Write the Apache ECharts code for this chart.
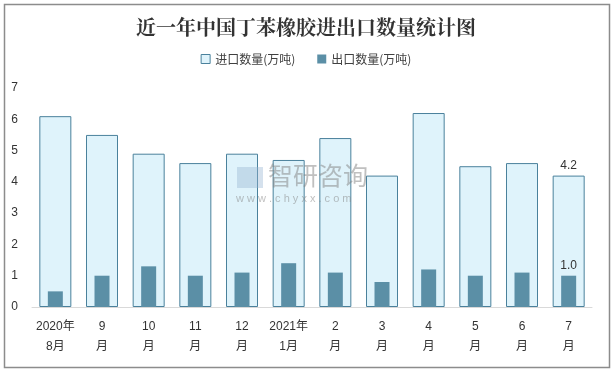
<!DOCTYPE html>
<html><head><meta charset="utf-8">
<script src="https://cdn.jsdelivr.net/npm/echarts@6/dist/echarts.min.js"></script>
<style>html,body{margin:0;padding:0;background:#fff}#c{width:612px;height:369px}</style>
</head><body><div id="c"></div>
<script>
const categories = ['2020年\n8月','9\n月','10\n月','11\n月','12\n月','2021年\n1月','2\n月','3\n月','4\n月','5\n月','6\n月','7\n月'];
const importValues = [6.1,5.5,4.9,4.6,4.9,4.7,5.4,4.2,6.2,4.5,4.6,4.2];
const exportValues = [0.5,1.0,1.3,1.0,1.1,1.4,1.1,0.8,1.2,1.0,1.1,1.0];
const yTicks = [0,1,2,3,4,5,6,7];

const lastLabel = (n) => ({
  show: true, position: 'top', distance: 4, color: '#333', fontSize: 12,
  fontFamily: 'Liberation Sans, Arial, sans-serif',
  formatter: p => p.dataIndex === n - 1 ? p.value.toFixed(1) : ''
});

const chart = echarts.init(document.getElementById('c'));
chart.setOption({
  backgroundColor: '#fff',
  animation: false,
  title: {
    text: '近一年中国丁苯橡胶进出口数量统计图',
    left: 'center', top: 12,
    textStyle: { fontSize: 20, fontWeight: 'bold', color: '#333', fontFamily: 'Noto Serif CJK SC, Noto Sans CJK SC, serif' }
  },
  legend: {
    top: 48, left: 'center', itemWidth: 9, itemHeight: 9, itemGap: 22,
    textStyle: { fontSize: 12, color: '#404040', fontFamily: 'Noto Sans CJK SC, sans-serif' },
    data: [
      { name: '进口数量(万吨)', icon: 'rect', itemStyle: { color: '#dff3fb', borderColor: '#4a819c', borderWidth: 1 } },
      { name: '出口数量(万吨)', icon: 'rect', itemStyle: { color: '#5b8fa6' } }
    ]
  },
  grid: { left: 32, right: 20, top: 88, bottom: 62, containLabel: false, outerBoundsMode: 'none' },
  xAxis: [
    {
      type: 'category', data: categories,
      axisLine: { lineStyle: { color: '#d9d9d9', width: 1 } },
      axisTick: { show: false },
      axisLabel: { color: '#333', fontSize: 12, lineHeight: 20, margin: 10, interval: 0,
        fontFamily: 'Liberation Sans, Noto Sans CJK SC, sans-serif' }
    },
    {
      type: 'category', data: categories, position: 'bottom', show: false
    }
  ],
  yAxis: {
    type: 'value', min: 0, max: 7, interval: 1,
    axisLine: { show: false }, axisTick: { show: false },
    splitLine: { show: false },
    axisLabel: { color: '#333', fontSize: 12, margin: 14, fontFamily: 'Liberation Sans, sans-serif',
      formatter: v => yTicks.includes(v) ? String(v) : '' }
  },
  series: [
    {
      name: '进口数量(万吨)', type: 'bar', xAxisIndex: 0, data: importValues, barWidth: 32,
      itemStyle: { color: '#dff3fb', borderColor: '#4a819c', borderWidth: 1 },
      label: lastLabel(importValues.length), z: 2
    },
    {
      name: '出口数量(万吨)', type: 'bar', xAxisIndex: 1, data: exportValues, barWidth: 15,
      itemStyle: { color: '#5b8fa6' },
      label: lastLabel(exportValues.length), z: 3
    }
  ],
  graphic: [
    { type: 'rect', left: 2, top: 2, shape: { width: 605, height: 363 }, style: { fill: 'none', stroke: '#8c8c8c', lineWidth: 1.5 }, silent: true },
    { type: 'text', left: 268, top: 163, z: 10, style: { text: '智研咨询', fontSize: 25, fill: 'rgba(130,130,130,0.5)', fontFamily: 'Noto Sans CJK SC, sans-serif' } },
    { type: 'text', left: 236, top: 193, z: 10, style: { text: 'w w w . c h y x x . c o m', fontSize: 11, fill: 'rgba(130,130,130,0.5)', fontFamily: 'Liberation Sans, sans-serif' } },
    { type: 'rect', left: 237, top: 167, z: 10, shape: { width: 26, height: 21 }, style: { fill: 'rgba(150,180,210,0.4)' } }
  ]
});
</script>
</body></html>
